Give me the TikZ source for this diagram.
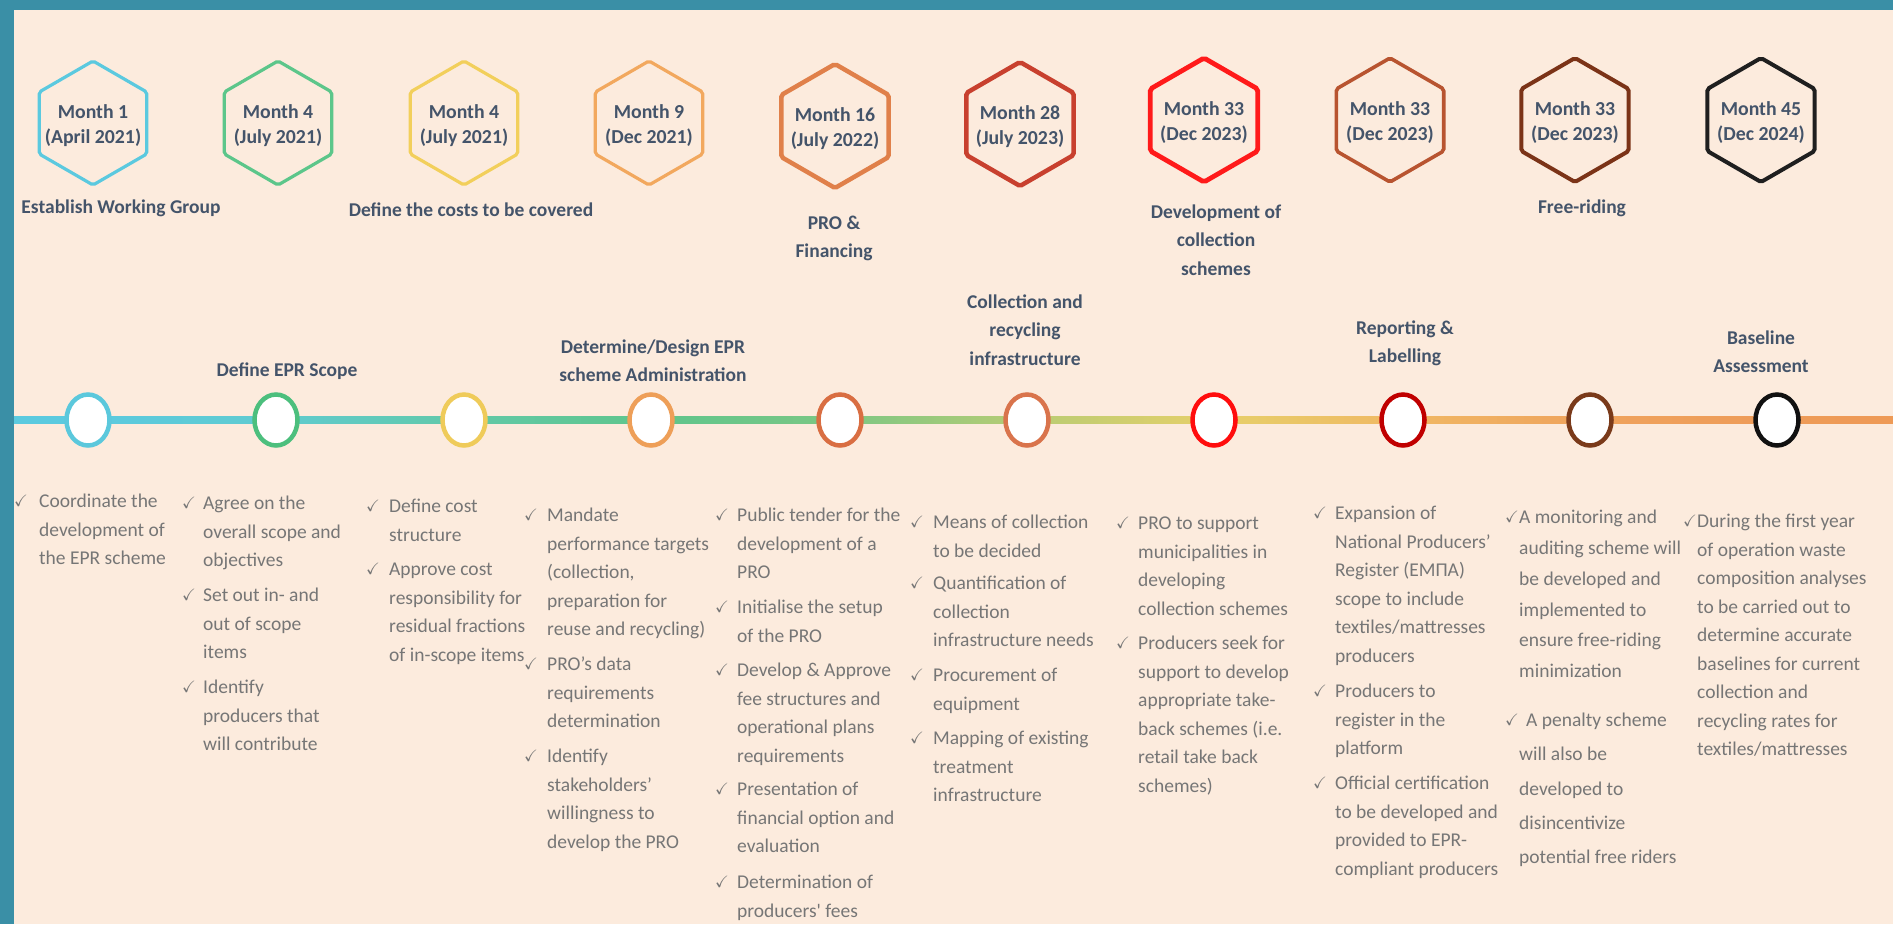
\documentclass[tikz,border=0pt]{standalone}
\usepackage{fontspec}
\usepackage{amssymb}
\setmainfont{Carlito}
\usetikzlibrary{shapes.geometric}

% page and text colours
\definecolor{bgpeach}{HTML}{FCEBDD}
\definecolor{frameteal}{HTML}{3A8FA6}
\definecolor{headtxt}{HTML}{44546A}
\definecolor{bodytxt}{HTML}{767676}
% hexagon outlines
\definecolor{hxA}{HTML}{5BC9DF}
\definecolor{hxB}{HTML}{5CC68A}
\definecolor{hxC}{HTML}{F2CF5B}
\definecolor{hxD}{HTML}{F2A85E}
\definecolor{hxE}{HTML}{E0804A}
\definecolor{hxF}{HTML}{C8402E}
\definecolor{hxG}{HTML}{FF1A1A}
\definecolor{hxH}{HTML}{B85430}
\definecolor{hxI}{HTML}{7B3317}
\definecolor{hxJ}{HTML}{1F1F1F}
% milestone circle outlines
\definecolor{ccA}{HTML}{5BC8DC}
\definecolor{ccB}{HTML}{4CBF7D}
\definecolor{ccC}{HTML}{EFCB5A}
\definecolor{ccD}{HTML}{EE9F58}
\definecolor{ccE}{HTML}{D96E42}
\definecolor{ccF}{HTML}{D9744C}
\definecolor{ccG}{HTML}{FF0D0D}
\definecolor{ccH}{HTML}{C00000}
\definecolor{ccI}{HTML}{7A3A1A}
\definecolor{ccJ}{HTML}{111111}
% timeline gradient stops
\definecolor{tl0}{HTML}{5BCADF}
\definecolor{tl1}{HTML}{5BCADF}
\definecolor{tl2}{HTML}{60CBD0}
\definecolor{tl3}{HTML}{62C9A8}
\definecolor{tl4}{HTML}{5EC58C}
\definecolor{tl5}{HTML}{7CC784}
\definecolor{tl6}{HTML}{B8CC74}
\definecolor{tl7}{HTML}{E6D06A}
\definecolor{tl8}{HTML}{F0B864}
\definecolor{tl9}{HTML}{EFA35D}
\definecolor{tl10}{HTML}{EE9B58}
\definecolor{tl11}{HTML}{EE9A56}

% fixed-height opener for the first line of a text block
\newcommand\firstln{\rule{0pt}{20pt}}

\tikzset{
  hexshape/.style={regular polygon, regular polygon sides=6, shape border rotate=30,
    minimum size=124pt, inner sep=0pt, rounded corners=2pt, draw=#1},
  hextext/.style={font=\bfseries\fontsize{19.8}{25}\selectfont, text=headtxt,
    align=center, inner sep=0pt, anchor=center, yshift=-2.5pt},
  stagelabel/.style={font=\bfseries\fontsize{19.5}{28.3}\selectfont, text=headtxt,
    align=center, inner sep=0pt, anchor=north, yshift=13.6pt},
  milestone/.style={ellipse, draw=#1, fill=white, line width=4.5pt,
    minimum width=43pt, minimum height=51pt, inner sep=0pt},
  itemtext/.style={font=\fontsize{19.5}{28.5}\selectfont, text=bodytxt,
    align=left, inner sep=0pt, anchor=north west, yshift=13.6pt},
  tick/.style={font=\fontsize{16.5}{16.5}\selectfont, text=bodytxt, inner sep=0pt}
}

\begin{document}
\begin{tikzpicture}[x=1pt,y=-1pt]
\useasboundingbox (0,0) rectangle (1893,924);
\fill[bgpeach] (0,0) rectangle (1893,924);

% ---------- month hexagons ----------
\node[hexshape=hxA, line width=3.2pt] (hx1) at (93,123) {};
\node[hexshape=hxB, line width=3.2pt] (hx2) at (278,123) {};
\node[hexshape=hxC, line width=3.2pt] (hx3) at (464,123) {};
\node[hexshape=hxD, line width=3.2pt] (hx4) at (649,123) {};
\node[hexshape=hxE, line width=4.5pt] (hx5) at (835,126) {};
\node[hexshape=hxF, line width=4.5pt] (hx6) at (1020,124) {};
\node[hexshape=hxG, line width=4.8pt] (hx7) at (1204,120) {};
\node[hexshape=hxH, line width=3.6pt] (hx8) at (1390,120) {};
\node[hexshape=hxI, line width=4pt] (hx9) at (1575,120) {};
\node[hexshape=hxJ, line width=4pt] (hx10) at (1761,120) {};

\node[hextext] (mo1) at (hx1.center) {Month 1\\(April 2021)};
\node[hextext] (mo2) at (hx2.center) {Month 4\\(July 2021)};
\node[hextext] (mo3) at (hx3.center) {Month 4\\(July 2021)};
\node[hextext] (mo4) at (hx4.center) {Month 9\\(Dec 2021)};
\node[hextext] (mo5) at (hx5.center) {Month 16\\(July 2022)};
\node[hextext] (mo6) at (hx6.center) {Month 28\\(July 2023)};
\node[hextext] (mo7) at (hx7.center) {Month 33\\(Dec 2023)};
\node[hextext] (mo8) at (hx8.center) {Month 33\\(Dec 2023)};
\node[hextext] (mo9) at (hx9.center) {Month 33\\(Dec 2023)};
\node[hextext] (mo10) at (hx10.center) {Month 45\\(Dec 2024)};

% ---------- stage titles ----------
\node[stagelabel] (lb1) at (121,207) {\firstln Establish Working Group};
\node[stagelabel] (lb2) at (287,370) {\firstln Define EPR Scope};
\node[stagelabel] (lb3) at (471,210) {\firstln Define the costs to be covered};
\node[stagelabel] (lb4) at (653,347) {\firstln Determine/Design EPR\\scheme Administration};
\node[stagelabel] (lb5) at (834,223) {\firstln PRO \&\\Financing};
\node[stagelabel] (lb6) at (1025,302) {\firstln Collection and\\recycling\\infrastructure};
\node[stagelabel] (lb7) at (1216,212) {\firstln Development of\\collection\\schemes};
\node[stagelabel] (lb8) at (1405,328) {\firstln Reporting \&\\Labelling};
\node[stagelabel] (lb9) at (1582,207) {\firstln Free-riding};
\node[stagelabel] (lb10) at (1761,338) {\firstln Baseline\\Assessment};

% ---------- timeline ----------
\coordinate (p0) at (13,420);
\coordinate (p1) at (88,420);
\coordinate (p2) at (276,420);
\coordinate (p3) at (464,420);
\coordinate (p4) at (651,420);
\coordinate (p5) at (840,420);
\coordinate (p6) at (1027,420);
\coordinate (p7) at (1214,420);
\coordinate (p8) at (1403,420);
\coordinate (p9) at (1590,420);
\coordinate (p10) at (1777,420);
\coordinate (p11) at (1893,420);
\foreach \a/\b in {0/1,1/2,2/3,3/4,4/5,5/6,6/7,7/8,8/9,9/10,10/11}{
  \shade[left color=tl\a, right color=tl\b]
    ([yshift=-3.2pt]p\a) rectangle ([yshift=3.2pt]p\b);
}
\node[milestone=ccA] (c1) at (p1) {};
\node[milestone=ccB] (c2) at (p2) {};
\node[milestone=ccC] (c3) at (p3) {};
\node[milestone=ccD] (c4) at (p4) {};
\node[milestone=ccE] (c5) at (p5) {};
\node[milestone=ccF] (c6) at (p6) {};
\node[milestone=ccG] (c7) at (p7) {};
\node[milestone=ccH] (c8) at (p8) {};
\node[milestone=ccI] (c9) at (p9) {};
\node[milestone=ccJ] (c10) at (p10) {};

% ---------- activities ----------
% column 1
\node[tick] (k1a) at (21,501) {$\checkmark$};
\node[itemtext] (i1a) at (39,501) {\firstln Coordinate the\\development of\\the EPR scheme};
% column 2
\node[tick] (k2a) at (189,503) {$\checkmark$};
\node[itemtext] (i2a) at (203,503) {\firstln Agree on the\\overall scope and\\objectives};
\node[tick] (k2b) at (189,595) {$\checkmark$};
\node[itemtext] (i2b) at (203,595) {\firstln Set out in- and\\out of scope\\items};
\node[tick] (k2c) at (189,687) {$\checkmark$};
\node[itemtext] (i2c) at (203,687) {\firstln Identify\\producers that\\will contribute};
% column 3
\node[tick] (k3a) at (373,506) {$\checkmark$};
\node[itemtext] (i3a) at (389,506) {\firstln Define cost\\structure};
\node[tick] (k3b) at (373,569) {$\checkmark$};
\node[itemtext] (i3b) at (389,569) {\firstln Approve cost\\responsibility for\\residual fractions\\of in-scope items};
% column 4
\node[tick] (k4a) at (531,515) {$\checkmark$};
\node[itemtext] (i4a) at (547,515) {\firstln Mandate\\performance targets\\(collection,\\preparation for\\reuse and recycling)};
\node[tick] (k4b) at (531,664) {$\checkmark$};
\node[itemtext] (i4b) at (547,664) {\firstln PRO’s data\\requirements\\determination};
\node[tick] (k4c) at (531,756) {$\checkmark$};
\node[itemtext] (i4c) at (547,756) {\firstln Identify\\stakeholders’\\willingness to\\develop the PRO};
% column 5
\node[tick] (k5a) at (722,515) {$\checkmark$};
\node[itemtext] (i5a) at (737,515) {\firstln Public tender for the\\development of a\\PRO};
\node[tick] (k5b) at (722,607) {$\checkmark$};
\node[itemtext] (i5b) at (737,607) {\firstln Initialise the setup\\of the PRO};
\node[tick] (k5c) at (722,670) {$\checkmark$};
\node[itemtext] (i5c) at (737,670) {\firstln Develop \& Approve\\fee structures and\\operational plans\\requirements};
\node[tick] (k5d) at (722,789) {$\checkmark$};
\node[itemtext] (i5d) at (737,789) {\firstln Presentation of\\financial option and\\evaluation};
\node[tick] (k5e) at (722,882) {$\checkmark$};
\node[itemtext] (i5e) at (737,882) {\firstln Determination of\\producers\textquotesingle\ fees};
% column 6
\node[tick] (k6a) at (917,522) {$\checkmark$};
\node[itemtext] (i6a) at (933,522) {\firstln Means of collection\\to be decided};
\node[tick] (k6b) at (917,583) {$\checkmark$};
\node[itemtext] (i6b) at (933,583) {\firstln Quantification of\\collection\\infrastructure needs};
\node[tick] (k6c) at (917,675) {$\checkmark$};
\node[itemtext] (i6c) at (933,675) {\firstln Procurement of\\equipment};
\node[tick] (k6d) at (917,738) {$\checkmark$};
\node[itemtext] (i6d) at (933,738) {\firstln Mapping of existing\\treatment\\infrastructure};
% column 7
\node[tick] (k7a) at (1123,523) {$\checkmark$};
\node[itemtext] (i7a) at (1138,523) {\firstln PRO to support\\municipalities in\\developing\\collection schemes};
\node[tick] (k7b) at (1123,643) {$\checkmark$};
\node[itemtext] (i7b) at (1138,643) {\firstln Producers seek for\\support to develop\\appropriate take-\\back schemes (i.e.\\retail take back\\schemes)};
% column 8
\node[tick] (k8a) at (1320,513) {$\checkmark$};
\node[itemtext] (i8a) at (1335,513) {\firstln Expansion of\\National Producers’\\Register (ΕΜΠΑ)\\scope to include\\textiles/mattresses\\producers};
\node[tick] (k8b) at (1320,691) {$\checkmark$};
\node[itemtext] (i8b) at (1335,691) {\firstln Producers to\\register in the\\platform};
\node[tick] (k8c) at (1320,783) {$\checkmark$};
\node[itemtext] (i8c) at (1335,783) {\firstln Official certification\\to be developed and\\provided to EPR-\\compliant producers};
% column 9
\node[tick] (k9a) at (1512,517) {$\checkmark$};
\node[itemtext, font=\fontsize{19.5}{30.8}\selectfont] (i9a) at (1519,517)
  {\firstln A monitoring and\\auditing scheme will\\be developed and\\implemented to\\ensure free-riding\\minimization};
\node[tick] (k9b) at (1512,720) {$\checkmark$};
\node[itemtext, font=\fontsize{19.5}{34.2}\selectfont] (i9b) at (1519,720)
  {\firstln\hspace*{7pt}A penalty scheme\\will also be\\developed to\\disincentivize\\potential free riders};
% column 10
\node[tick] (k10a) at (1690,521) {$\checkmark$};
\node[itemtext] (i10a) at (1697,521) {\firstln During the first year\\of operation waste\\composition analyses\\to be carried out to\\determine accurate\\baselines for current\\collection and\\recycling rates for\\textiles/mattresses};

% ---------- frame ----------
\fill[frameteal] (0,0) rectangle (1893,10);
\fill[frameteal] (0,0) rectangle (14,924);
\end{tikzpicture}
\end{document}
